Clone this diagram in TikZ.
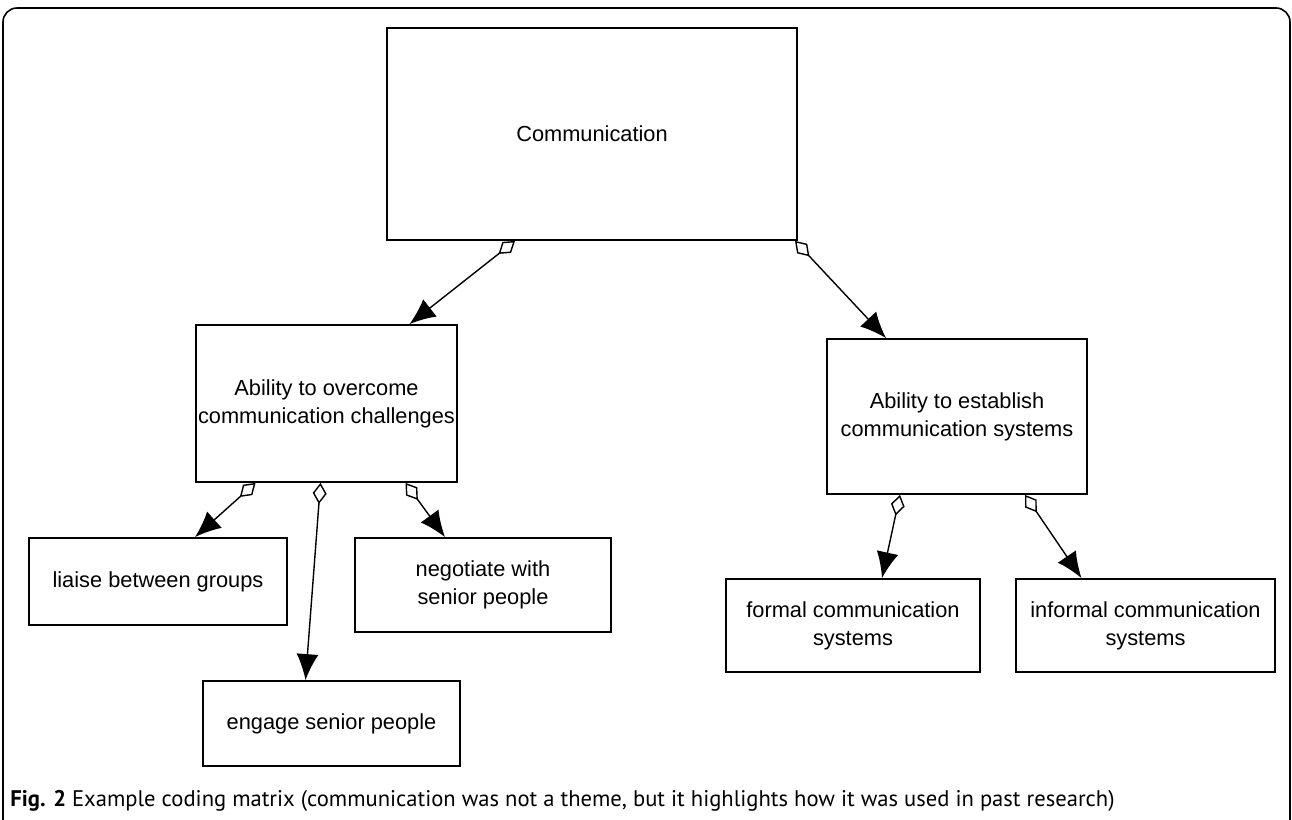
\documentclass[tikz,border=0pt]{standalone}
\usepackage{fontspec}
\setmainfont{Liberation Sans}
\newfontfamily\captionfont{PT Sans}
\usepackage{tikz}
\usetikzlibrary{arrows.meta}

\begin{document}
\begin{tikzpicture}[x=0.5pt,y=-0.5pt,
    box/.style={draw,line width=0.9pt,align=center,inner sep=0pt,
      font=\fontsize{10.9}{14}\selectfont},
    link/.style={line width=0.7pt,
      {Diamond[open,length=10.5pt,width=7pt,line width=0.7pt]}-{Latex[length=13pt,width=11pt]}}]
    \useasboundingbox (0,0) rectangle (1292,820);
    \clip (0,0) rectangle (1292,820);
    % outer frame
    \draw[line width=0.8pt,rounded corners=7pt] (3,8) rectangle (1290,860);
    % nodes
    \node[box,minimum width=205pt,minimum height=106pt] (comm) at (592,134) {Communication};
    \node[box,minimum width=130.5pt,minimum height=78.5pt] (overcome) at (326.5,403.5)
      {Ability to overcome\\communication challenges};
    \node[box,minimum width=130pt,minimum height=77.5pt] (establish) at (957,416.5)
      {Ability to establish\\communication systems};
    \node[box,minimum width=129pt,minimum height=43.5pt] (liaise) at (158,581.5)
      {liaise between groups};
    \node[box,minimum width=128pt,minimum height=47pt] (negotiate) at (483,585)
      {negotiate with\\senior people};
    \node[box,minimum width=128.5pt,minimum height=42.5pt] (engage) at (331.5,723.5)
      {engage senior people};
    \node[box,minimum width=127pt,minimum height=46.5pt] (formal) at (853,625.5)
      {formal communication\\systems};
    \node[box,minimum width=129.5pt,minimum height=46.5pt] (informal) at (1145.5,625.5)
      {informal communication\\systems};
    % connectors
    \draw[link] ([xshift=-38.5pt]comm.south) -- ([xshift=41.5pt]overcome.north);
    \draw[link] ([xshift=101.5pt]comm.south) -- ([xshift=-35.5pt]establish.north);
    \draw[link] ([xshift=-35.5pt]overcome.south) -- ([xshift=18.5pt]liaise.north);
    \draw[link] ([xshift=-3pt]overcome.south) -- ([xshift=-13pt]engage.north);
    \draw[link] ([xshift=39.5pt]overcome.south) -- ([xshift=-19pt]negotiate.north);
    \draw[link] ([xshift=-28.5pt]establish.south) -- ([xshift=14.5pt]formal.north);
    \draw[link] ([xshift=34pt]establish.south) -- ([xshift=-32pt]informal.north);
    % caption
    \node[anchor=base west,inner sep=0pt,font=\captionfont\fontsize{11.3}{12}\selectfont]
      (caption) at (10,806) {\textbf{Fig. 2} Example coding matrix (communication was not a theme, but it highlights how it was used in past research)};
  \end{tikzpicture}
\end{document}
